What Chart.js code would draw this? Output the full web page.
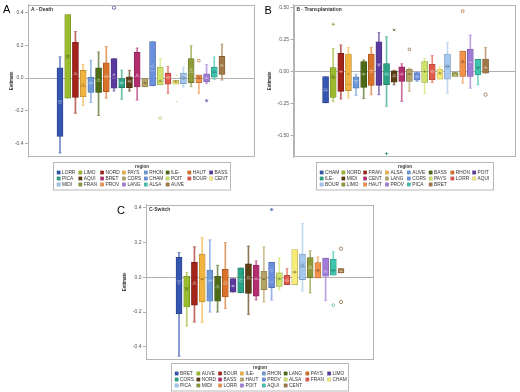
<!DOCTYPE html>
<html>
<head>
<meta charset="utf-8">
<script src="https://cdn.jsdelivr.net/npm/chart.js@4.4.1/dist/chart.umd.min.js"></script>
<style>
  html, body { margin: 0; padding: 0; background: #fff; }
  body { width: 520px; height: 392px; position: relative; overflow: hidden; }
  canvas { position: absolute; }
  #chartA { left: 0; top: 0; width: 260px; height: 195px; }
  #chartB { left: 260px; top: 0; width: 260px; height: 195px; }
  #chartC { left: 110px; top: 195px; width: 270px; height: 197px; }
</style>
</head>
<body>
<canvas id="chartA" width="260" height="195"></canvas>
<canvas id="chartB" width="260" height="195"></canvas>
<canvas id="chartC" width="270" height="197"></canvas>
<script>
// ---------- A - Death ----------
const regionsA = ['LORR','LIMO','NORD','PAYS','RHON','ILE-','HAUT','BASS','PICA','AQUI','BRET',
                  'CORS','CHAM','POIT','BOUR','CENT','MIDI','FRAN','PROV','LANG','ALSA','AUVE'];
const lowA    = [-0.46, -0.123, -0.216, -0.168, -0.15, -0.23, -0.123, -0.079, -0.129, -0.079, -0.135,
                 -0.055, -0.048, -0.042, -0.095, -0.038, -0.055, -0.053, -0.095, -0.034, -0.008, -0.012];
const q1A     = [-0.358, -0.123, -0.119, -0.115, -0.089, -0.089, -0.083, -0.062, -0.059, -0.059, -0.055,
                 -0.055, -0.048, -0.042, -0.038, -0.038, -0.034, -0.028, -0.028, -0.024, 0.006, 0.022];
const medianA = [-0.14, 0.14, 0.02, -0.05, -0.03, -0.02, 0.01, 0.0, -0.03, -0.02, 0.01,
                 -0.03, 0.045, -0.02, 0.003, -0.025, 0.0, 0.035, 0.0, 0.0, 0.035, 0.075];
const meanA   = [-0.15, 0.13, 0.03, -0.04, -0.03, -0.01, 0.01, 0.02, -0.03, -0.02, 0.02,
                 -0.03, 0.073, -0.018, 0.003, -0.022, 0.0, 0.05, 0.0, 0.0, 0.04, 0.08];
const q3A     = [0.063, 0.39, 0.22, 0.047, 0.006, 0.063, 0.093, 0.119, -0.004, 0.008, 0.158,
                 -0.004, 0.224, 0.067, 0.03, -0.014, 0.03, 0.119, 0.018, 0.026, 0.067, 0.133];
const highA   = [0.13, 0.39, 0.285, 0.083, 0.109, 0.16, 0.194, 0.119, 0.048, 0.048, 0.184,
                 -0.004, 0.224, 0.119, 0.071, -0.014, 0.067, 0.198, 0.018, 0.083, 0.129, 0.208];
const outRegionA = ['BASS', 'POIT', 'CENT', 'CENT', 'PROV', 'LANG'];
const outValueA  = [0.432, -0.247, 0.018, -0.144, 0.107, -0.139];
const ticksA = [-0.4, -0.2, 0, 0.2, 0.4];

// ---------- B - Transplantation ----------
const regionsB = ['CHAM','NORD','FRAN','ALSA','AUVE','BASS','RHON','POIT','ILE-','MIDI','CENT',
                  'LANG','CORS','PAYS','LORR','AQUI','BOUR','LIMO','HAUT','PROV','PICA','BRET'];
const lowB    = [-0.245, -0.232, -0.214, -0.206, -0.186, -0.211, -0.181, -0.181, -0.271, -0.103, -0.232,
                 -0.155, -0.077, -0.173, -0.085, -0.059, -0.168, -0.039, -0.09, -0.129, -0.103, -0.013];
const q1B     = [-0.245, -0.201, -0.155, -0.149, -0.129, -0.124, -0.108, -0.108, -0.103, -0.083, -0.077,
                 -0.077, -0.067, -0.085, -0.064, -0.059, -0.059, -0.039, -0.039, -0.039, -0.026, -0.013];
const medianB = [-0.15, -0.05, 0.0, -0.1, -0.07, -0.02, 0.01, 0.06, -0.02, -0.04, -0.02,
                 -0.02, -0.04, 0.0, 0.0, -0.02, 0.04, -0.03, 0.07, 0.07, 0.03, 0.03];
const meanB   = [-0.14, -0.04, 0.0, -0.02, -0.08, -0.02, 0.0, 0.05, -0.02, -0.03, -0.02,
                 -0.02, -0.04, 0.0, 0.0, -0.01, 0.04, -0.03, 0.08, 0.075, 0.03, 0.03];
const q3B     = [-0.039, 0.031, 0.142, 0.137, -0.041, 0.077, 0.137, 0.232, 0.062, 0.005, 0.036,
                 0.018, -0.008, 0.077, 0.057, 0.018, 0.137, -0.008, 0.16, 0.176, 0.095, 0.098];
const highB   = [-0.039, 0.18, 0.207, 0.188, -0.021, 0.09, 0.188, 0.304, 0.271, 0.01, 0.06,
                 0.026, 0.0, 0.103, 0.124, 0.044, 0.227, -0.008, 0.16, 0.284, 0.095, 0.188];
const outRegionB = ['NORD', 'ILE-', 'MIDI', 'LANG', 'HAUT', 'BRET'];
const outValueB  = [0.369, -0.64, 0.325, 0.173, 0.472, -0.18];
const ticksB = [-0.5, -0.25, 0, 0.25, 0.5];

// ---------- C-Switch ----------
const regionsC = ['BRET','AUVE','BOUR','ILE-','RHON','LANG','PAYS','LIMO','CORS','NORD','BASS',
                  'HAUT','PROV','ALSA','FRAN','CHAM','PICA','MIDI','LORR','POIT','AQUI','CENT'];
const lowC    = [-0.454, -0.28, -0.257, -0.261, -0.2, -0.2, -0.18, -0.085, -0.09, -0.213, -0.13,
                 -0.142, -0.13, -0.071, -0.042, -0.042, -0.079, -0.09, -0.004, -0.133, 0.012, 0.025];
const q1C     = [-0.209, -0.171, -0.16, -0.142, -0.138, -0.138, -0.113, -0.085, -0.09, -0.093, -0.108,
                 -0.071, -0.06, -0.052, -0.042, -0.042, -0.013, -0.002, -0.004, 0.006, 0.012, 0.025];
const medianC = [-0.02, -0.06, -0.04, -0.01, -0.02, -0.06, -0.04, -0.05, -0.01, -0.01, -0.01,
                 -0.01, -0.027, -0.01, -0.02, 0.03, 0.06, 0.05, 0.04, 0.03, 0.04, 0.035];
const meanC   = [-0.03, -0.07, -0.03, -0.01, -0.02, -0.05, -0.03, -0.05, -0.02, 0.0, -0.01,
                 -0.01, 0.04, -0.008, -0.017, 0.03, 0.069, 0.06, 0.04, 0.036, 0.039, 0.035];
const q3C     = [0.115, 0.006, 0.086, 0.133, 0.042, 0.006, 0.046, -0.008, 0.054, 0.077, 0.07,
                 0.035, 0.086, 0.025, 0.012, 0.16, 0.133, 0.113, 0.085, 0.111, 0.104, 0.05];
const highC   = [0.142, 0.027, 0.175, 0.229, 0.215, 0.069, 0.2, -0.008, 0.054, 0.179, 0.094,
                 0.175, 0.086, 0.113, 0.05, 0.16, 0.31, 0.152, 0.117, 0.111, 0.146, 0.05];
const outRegionC = ['PROV', 'AQUI', 'CENT', 'CENT'];
const outValueC  = [0.39, -0.161, 0.165, -0.142];
const ticksC = [-0.4, -0.2, 0, 0.2, 0.4];

// colours by legend position (same sequence in every panel)
const palette = ['#3556b0','#9bbb2e','#a3241a','#f2b441','#6a98d8','#4d6b17','#d8722a','#5a3a9e',
                 '#2aa387','#5c3d14','#b32e6e','#b4a463','#6a8fdd','#cfe26b','#df5a4a','#f7ec79',
                 '#a4c8f0','#8f9a3a','#f3924a','#9f7ad6','#3fc4ad','#a27848'];
const meanStyles = ['circle','rect','triangle','crossRot','rectRot','cross','circle','star'];
const outStylesA = ['circle','rectRot','dash','dash','rect','star'];
const outStylesB = ['cross','cross','crossRot','rect','rect','circle'];
const outStylesC = ['star','rectRot','circle','circle'];

const FONT = "'Liberation Sans', Arial, sans-serif";

function rgb(hex) {
  const n = parseInt(hex.slice(1), 16);
  return [(n >> 16) & 255, (n >> 8) & 255, n & 255];
}
function shade(hex, f) {
  const [r, g, b] = rgb(hex);
  return `rgb(${Math.round(r * f)},${Math.round(g * f)},${Math.round(b * f)})`;
}
function lighten(hex, t) {
  const [r, g, b] = rgb(hex);
  return `rgb(${Math.round(r + (255 - r) * t)},${Math.round(g + (255 - g) * t)},${Math.round(b + (255 - b) * t)})`;
}
function isLight(hex) {
  const [r, g, b] = rgb(hex);
  return (0.299 * r + 0.587 * g + 0.114 * b) / 255 > 0.6;
}

// frame, panel letter, title and the boxed "region" legend
const panelDecor = {
  id: 'panelDecor',
  afterDraw(chart, args, o) {
    const { ctx, chartArea: a } = chart;
    ctx.save();
    ctx.strokeStyle = '#b4b4b4';
    ctx.lineWidth = 1;
    ctx.strokeRect(Math.round(a.left) + 0.5, Math.round(a.top) + 0.5,
                   Math.round(a.right - a.left) - 1, Math.round(a.bottom - a.top) - 1);

    ctx.fillStyle = '#333';
    ctx.font = `bold 5px ${FONT}`;
    ctx.textBaseline = 'middle';
    ctx.textAlign = 'left';
    ctx.fillText(o.title, a.left + 3, a.top + 5);

    ctx.fillStyle = '#000';
    ctx.font = `11px ${FONT}`;
    ctx.textBaseline = 'alphabetic';
    ctx.fillText(o.letter, o.letterX, o.letterY);

    // legend
    const w = 177, h = 27.5;
    const lx = Math.round((a.left + a.right) / 2 - w / 2) + 0.5;
    const ly = Math.round(a.bottom + o.legendGap) + 0.5;
    ctx.strokeStyle = '#b8b8b8';
    ctx.strokeRect(lx, ly, w, h);
    ctx.fillStyle = '#333';
    ctx.font = `bold 4.5px ${FONT}`;
    ctx.textAlign = 'center';
    ctx.textBaseline = 'middle';
    ctx.fillText('region', lx + w / 2, ly + 3.8);
    ctx.textAlign = 'left';
    ctx.font = `4.8px ${FONT}`;
    o.regions.forEach((r, i) => {
      const col = i % 8, row = Math.floor(i / 8);
      const sx = lx + 3.5 + col * 21.8, sy = ly + 10 + row * 6;
      ctx.fillStyle = palette[i];
      ctx.fillRect(sx, sy - 1.6, 3.2, 3.2);
      ctx.strokeStyle = shade(palette[i], 0.75);
      ctx.lineWidth = 0.4;
      ctx.strokeRect(sx, sy - 1.6, 3.2, 3.2);
      ctx.fillStyle = '#333';
      ctx.fillText(r, sx + 5, sy + 0.2);
    });
    ctx.restore();
  }
};

function makePanel(id, p) {
  const idx = p.regions.map((r, i) => i);
  const cols = idx.map(i => palette[i]);

  const caps = [], capCols = [];
  idx.forEach(i => {
    if (p.low[i] < p.q1[i]) { caps.push({ x: i, y: p.low[i] }); capCols.push(lighten(cols[i], 0.3)); }
    if (p.high[i] > p.q3[i]) { caps.push({ x: i, y: p.high[i] }); capCols.push(lighten(cols[i], 0.3)); }
  });
  const outIdx = p.outRegion.map(r => p.regions.indexOf(r));

  return new Chart(document.getElementById(id), {
    type: 'bar',
    data: {
      datasets: [
        {
          type: 'bar', label: 'whisker',
          data: idx.map(i => ({ x: i, y: [p.low[i], p.high[i]] })),
          backgroundColor: cols.map(c => lighten(c, 0.3)),
          barThickness: 1, grouped: false, order: 6
        },
        {
          type: 'bar', label: 'box',
          data: idx.map(i => ({ x: i, y: [p.q1[i], p.q3[i]] })),
          backgroundColor: cols,
          borderColor: cols.map(c => shade(c, 0.72)),
          borderWidth: 0.7, borderSkipped: false,
          barThickness: 6, grouped: false, order: 5
        },
        {
          type: 'line', label: 'caps', showLine: false, data: caps,
          pointStyle: 'line', pointRadius: 1.6, pointBorderWidth: 0.8,
          pointBorderColor: capCols, order: 4
        },
        {
          type: 'line', label: 'median', showLine: false,
          data: idx.map(i => ({ x: i, y: p.median[i] })),
          pointStyle: 'line', pointRadius: 2.6, pointBorderWidth: 0.6,
          pointBorderColor: cols.map(c => isLight(c) ? shade(c, 0.7) : lighten(c, 0.45)), order: 3
        },
        {
          type: 'line', label: 'mean', showLine: false,
          data: idx.map(i => ({ x: i, y: p.mean[i] })),
          pointStyle: idx.map(i => meanStyles[i % meanStyles.length]),
          pointRadius: 1.4, pointBorderWidth: 0.6,
          pointBackgroundColor: 'rgba(0,0,0,0)',
          pointBorderColor: cols.map(c => isLight(c) ? shade(c, 0.6) : lighten(c, 0.55)), order: 2
        },
        {
          type: 'line', label: 'outliers', showLine: false,
          data: outIdx.map((k, j) => ({ x: k, y: p.outValue[j] })),
          pointStyle: p.outStyles, pointRadius: 1.7, pointBorderWidth: 0.7,
          pointBackgroundColor: 'rgba(0,0,0,0)',
          pointBorderColor: outIdx.map(k => shade(cols[k], 0.8)), order: 1
        }
      ]
    },
    options: {
      responsive: false,
      animation: false,
      events: [],
      layout: { padding: { left: 0, top: p.pad[0], right: p.pad[1], bottom: p.pad[2] } },
      plugins: {
        legend: { display: false },
        tooltip: { enabled: false },
        panelDecor: { title: p.title, letter: p.letter, letterX: p.letterPos[0], letterY: p.letterPos[1],
                      regions: p.regions, legendGap: p.legendGap }
      },
      scales: {
        x: { type: 'linear', display: false, offset: false, min: p.xRange[0], max: p.xRange[1] },
        y: {
          min: p.yRange[0], max: p.yRange[1],
          afterFit: s => { s.width = p.axisW; },
          afterBuildTicks: s => { s.ticks = p.ticks.map(v => ({ value: v })); },
          ticks: {
            font: { size: 5, family: FONT }, color: '#555', padding: 1.5,
            callback: v => v.toFixed(p.decimals)
          },
          grid: {
            drawOnChartArea: true, lineWidth: 0.8, tickLength: 3, tickColor: '#999',
            color: c => (c.tick && c.tick.value === 0) ? '#9c9c9c' : 'rgba(0,0,0,0)'
          },
          border: { display: true, color: '#b4b4b4' },
          title: {
            display: true, text: 'Estimate', color: '#333',
            font: { size: 4.5, weight: 'bold', family: FONT },
            padding: { top: p.titlePad, bottom: 0 }
          }
        }
      }
    },
    plugins: [panelDecor]
  });
}

makePanel('chartA', {
  title: 'A - Death', letter: 'A', letterPos: [3, 13],
  regions: regionsA, low: lowA, q1: q1A, median: medianA, mean: meanA, q3: q3A, high: highA,
  outRegion: outRegionA, outValue: outValueA, outStyles: outStylesA,
  ticks: ticksA, decimals: 1, yRange: [-0.485, 0.45], xRange: [-4.15, 25.28],
  axisW: 28, pad: [3, 5, 38], titlePad: 9.3, legendGap: 5
});

makePanel('chartB', {
  title: 'B - Transplantation', letter: 'B', letterPos: [4.5, 13.5],
  regions: regionsB, low: lowB, q1: q1B, median: medianB, mean: meanB, q3: q3B, high: highB,
  outRegion: outRegionB, outValue: outValueB, outStyles: outStylesB,
  ticks: ticksB, decimals: 2, yRange: [-0.667, 0.521], xRange: [-4.21, 24.89],
  axisW: 33.5, pad: [3, 2, 38], titlePad: 6.8, legendGap: 5
});

makePanel('chartC', {
  title: 'C-Switch', letter: 'C', letterPos: [7, 18.5],
  regions: regionsC, low: lowC, q1: q1C, median: medianC, mean: meanC, q3: q3C, high: highC,
  outRegion: outRegionC, outValue: outValueC, outStyles: outStylesC,
  ticks: ticksC, decimals: 1, yRange: [-0.472, 0.419], xRange: [-4.28, 25.21],
  axisW: 36, pad: [9.5, 6.5, 32.7], titlePad: 12.3, legendGap: 4
});
</script>
</body>
</html>
